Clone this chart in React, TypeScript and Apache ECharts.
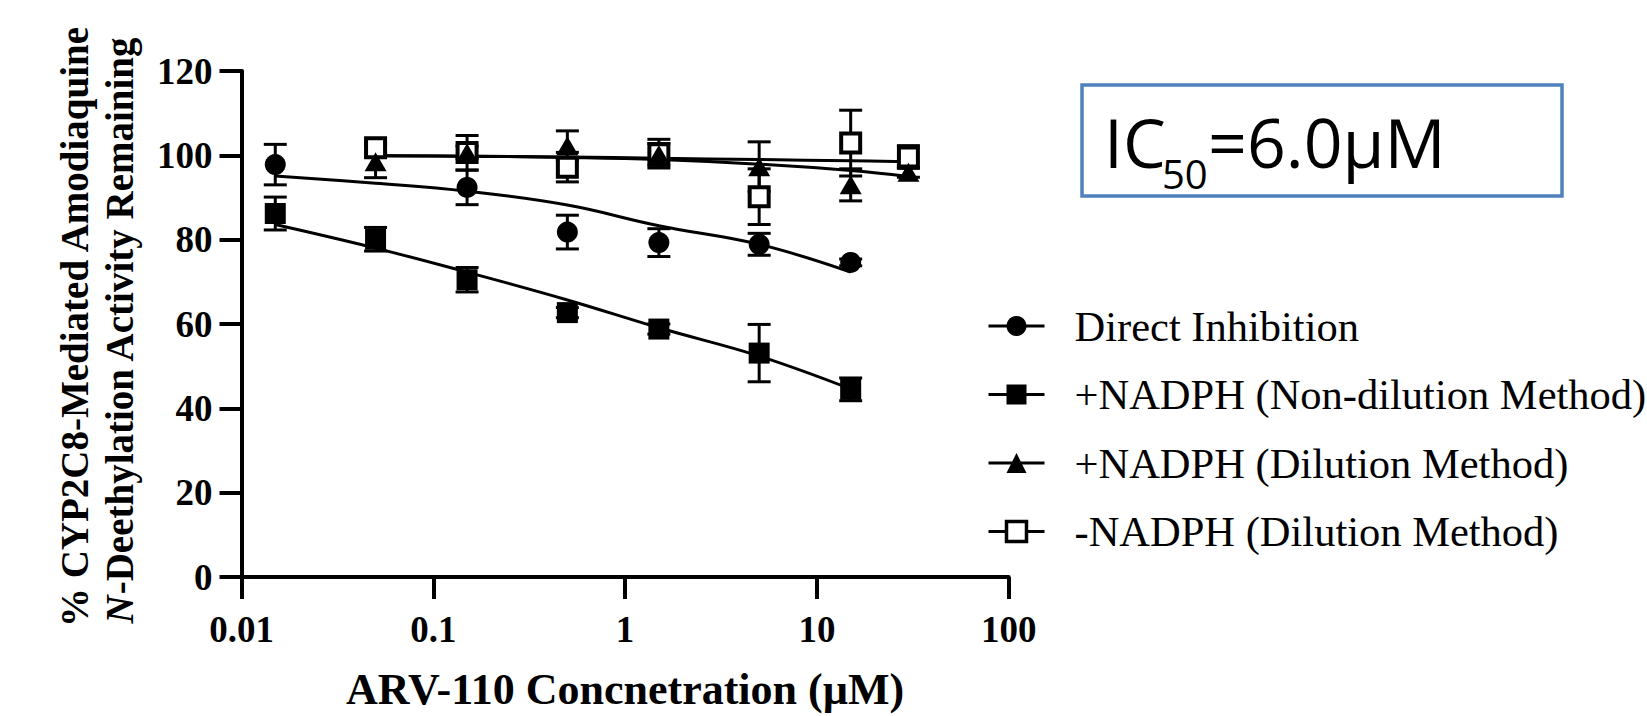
import React, { useEffect, useRef } from "react";
import * as echarts from "echarts";

const NAMES = [
  "Direct Inhibition",
  "+NADPH (Non-dilution Method)",
  "+NADPH (Dilution Method)",
  "-NADPH (Dilution Method)",
];

const X_TITLE = "ARV-110 Concnetration (µM)";
const Y_TITLE_1 = "% CYP2C8-Mediated Amodiaquine";
const Y_TITLE_2 = "{it|N}-Deethylation Activity Remaining";
const Y_TICKS_MIN = 0;
const Y_TICKS_MAX = 120;
const Y_TICK_STEP = 20;
const X_MIN = 0.01;
const X_MAX = 100;

// Direct Inhibition (filled circles)
const directConc = [0.015, 0.15, 0.5, 1.5, 5, 15];
const directMean = [97.8, 92.4, 81.8, 79.3, 78.9, 74.6];
const directErr = [4.8, 4.1, 4.0, 3.3, 2.6, 0.8];
const directFitConc = [0.015, 0.05, 0.15, 0.5, 1.5, 5, 15];
const directFit = [95.1, 93.4, 91.5, 88.2, 83.3, 78.9, 72.3];

// +NADPH non-dilution (filled squares)
const nonDilConc = [0.015, 0.05, 0.15, 0.5, 1.5, 5, 15];
const nonDilMean = [86.2, 80.1, 70.5, 62.7, 58.8, 53.1, 44.5];
const nonDilErr = [3.9, 2.8, 2.9, 1.2, 1.2, 6.8, 2.7];
const nonDilFitConc = [0.015, 0.05, 0.15, 0.5, 1.5, 5, 15];
const nonDilFit = [83.6, 78.0, 72.3, 65.7, 59.1, 52.4, 44.6];

// +NADPH dilution (filled triangles)
const dilConc = [0.05, 0.15, 0.5, 1.5, 5, 15, 30];
const dilMean = [98.5, 100.6, 102.3, 100.2, 97.3, 93.0, 96.0];
const dilErr = [3.8, 4.1, 3.5, 2.6, 5.9, 3.8, 1.2];
const dilFitConc = [0.05, 0.15, 0.5, 1.5, 5, 15, 30];
const dilFit = [99.9, 99.8, 99.5, 99.0, 97.9, 96.4, 95.0];

// -NADPH dilution (open squares)
const minusConc = [0.05, 0.15, 0.5, 1.5, 5, 15, 30];
const minusMean = [101.8, 100.7, 97.2, 100.4, 90.2, 102.9, 99.6];
const minusErr = [1.2, 1.5, 3.5, 3.4, 6.6, 7.8, 2.7];
const minusFitConc = [0.05, 0.15, 0.5, 1.5, 5, 15, 30];
const minusFit = [99.9, 99.8, 99.6, 99.3, 99.0, 98.7, 98.5];

const IC50_LABEL_MAIN = "IC";
const IC50_LABEL_SUB = "50";
const IC50_LABEL_REST = "=6.0µM";

const SERIF = '"Liberation Serif", "Times New Roman", serif';
const SANS = '"Open Sans", "Noto Sans", sans-serif';

const markerStyles: any[] = [
  { symbol: "circle", symbolSize: 21, itemStyle: { color: "#000" } },
  { symbol: "rect", symbolSize: 21, itemStyle: { color: "#000" } },
  { symbol: "triangle", symbolSize: [22, 19], itemStyle: { color: "#000" } },
  {
    symbol: "rect",
    symbolSize: 19,
    itemStyle: { color: "#fff", borderColor: "#000", borderWidth: 4 },
  },
];

function pairs(xs: number[], ys: number[]) {
  return xs.map((x, i) => [x, ys[i]]);
}

function errorSeries(id: string, xs: number[], ys: number[], es: number[]) {
  return {
    type: "custom",
    name: id,
    silent: true,
    z: 3,
    data: xs.map((x, i) => [x, ys[i], es[i]]),
    encode: { x: 0, y: 1 },
    renderItem: (params: any, api: any) => {
      const x = api.value(0);
      const y = api.value(1);
      const e = api.value(2);
      const top = api.coord([x, y + e]);
      const bot = api.coord([x, y - e]);
      const hw = 11.5;
      const style = { stroke: "#000", lineWidth: 3, fill: "none" };
      return {
        type: "group",
        children: [
          { type: "line", shape: { x1: top[0], y1: top[1], x2: bot[0], y2: bot[1] }, style },
          { type: "line", shape: { x1: top[0] - hw, y1: top[1], x2: top[0] + hw, y2: top[1] }, style },
          { type: "line", shape: { x1: bot[0] - hw, y1: bot[1], x2: bot[0] + hw, y2: bot[1] }, style },
        ],
      };
    },
  };
}

function curveSeries(idx: number, xs: number[], ys: number[]) {
  const m = markerStyles[idx];
  return {
    type: "line",
    name: NAMES[idx],
    data: pairs(xs, ys),
    smooth: 0.4,
    showSymbol: false,
    symbol: m.symbol,
    symbolSize: m.symbolSize,
    itemStyle: m.itemStyle,
    lineStyle: { color: "#000", width: 3 },
    z: 2,
    silent: true,
    emphasis: { disabled: true },
  };
}

function pointSeries(idx: number, xs: number[], ys: number[], z: number) {
  const m = markerStyles[idx];
  return {
    type: "scatter",
    name: NAMES[idx] + " data",
    data: pairs(xs, ys),
    symbol: m.symbol,
    symbolSize: m.symbolSize,
    itemStyle: { ...m.itemStyle, opacity: 1 },
    z,
    silent: true,
    emphasis: { disabled: true },
  };
}

export default function App() {
  const ref = useRef<HTMLDivElement>(null);

  useEffect(() => {
    if (!ref.current) return;
    const chart = echarts.init(ref.current, null, { renderer: "svg", width: 1647, height: 716 });
    const fmt = (v: number) => String(Number(Number(v).toPrecision(6)));

    chart.setOption({
      animation: false,
      backgroundColor: "#fff",
      textStyle: { fontFamily: SERIF, color: "#000" },
      grid: { left: 241.5, top: 71, width: 767.2, height: 513.3, containLabel: false },
      xAxis: {
        type: "log",
        logBase: 10,
        min: X_MIN,
        max: X_MAX,
        name: X_TITLE,
        nameLocation: "middle",
        nameGap: 90,
        nameTextStyle: { fontFamily: SERIF, fontWeight: "bold", fontSize: 44, color: "#000" },
        axisLine: { show: true, onZero: false, lineStyle: { color: "#000", width: 4 } },
        axisTick: { show: true, inside: false, length: 22, lineStyle: { color: "#000", width: 4 } },
        minorTick: { show: false },
        splitLine: { show: false },
        axisLabel: {
          fontFamily: SERIF,
          fontWeight: "bold",
          fontSize: 37,
          color: "#000",
          margin: 34,
          formatter: fmt,
        },
      },
      yAxis: {
        type: "value",
        min: Y_TICKS_MIN,
        max: Y_TICKS_MAX,
        interval: Y_TICK_STEP,
        axisLine: { show: true, onZero: false, lineStyle: { color: "#000", width: 4 } },
        axisTick: { show: true, inside: false, length: 22, lineStyle: { color: "#000", width: 4 } },
        splitLine: { show: false },
        axisLabel: {
          fontFamily: SERIF,
          fontWeight: "bold",
          fontSize: 37,
          color: "#000",
          margin: 29,
          padding: [9, 0, 0, 0],
        },
      },
      legend: {
        orient: "vertical",
        left: 982,
        top: 297,
        itemWidth: 56,
        itemHeight: 25,
        itemGap: 20.5,
        selectedMode: false,
        lineStyle: { width: 3, color: "#000" },
        textStyle: {
          fontFamily: SERIF,
          fontSize: 42.5,
          color: "#000",
          lineHeight: 48,
          padding: [0, 0, 0, 25],
        },
        data: [
          { name: NAMES[0] },
          { name: NAMES[1] },
          { name: NAMES[2] },
          { name: NAMES[3], itemStyle: { color: "#fff", borderColor: "#000", borderWidth: 3.5 } },
        ],
      },
      graphic: [
        {
          type: "text",
          x: 74,
          y: 327,
          rotation: Math.PI / 2,
          style: {
            text: Y_TITLE_1,
            fontFamily: SERIF,
            fontWeight: "bold",
            fontSize: 39,
            fill: "#000",
            align: "center",
            verticalAlign: "middle",
          },
        },
        {
          type: "text",
          x: 119,
          y: 330,
          rotation: Math.PI / 2,
          style: {
            text: Y_TITLE_2,
            fontFamily: SERIF,
            fontWeight: "bold",
            fontSize: 39,
            fill: "#000",
            align: "center",
            verticalAlign: "middle",
            rich: {
              it: { fontFamily: SERIF, fontWeight: "bold", fontStyle: "italic", fontSize: 39, fill: "#000" },
            },
          },
        },
        {
          type: "rect",
          shape: { x: 1082, y: 85, width: 480, height: 111 },
          style: { fill: "#fff", stroke: "#4F81BD", lineWidth: 3.5 },
        },
        {
          type: "text",
          x: 1104,
          y: 141,
          style: {
            text: IC50_LABEL_MAIN,
            fontFamily: SANS,
            fontSize: 68,
            fill: "#000",
            align: "left",
            verticalAlign: "middle",
          },
        },
        {
          type: "text",
          x: 1162,
          y: 173,
          style: {
            text: IC50_LABEL_SUB,
            fontFamily: SANS,
            fontSize: 40,
            fill: "#000",
            align: "left",
            verticalAlign: "middle",
          },
        },
        {
          type: "text",
          x: 1208,
          y: 141,
          style: {
            text: IC50_LABEL_REST,
            fontFamily: SANS,
            fontSize: 68,
            fill: "#000",
            align: "left",
            verticalAlign: "middle",
          },
        },
      ],
      series: [
        curveSeries(0, directFitConc, directFit),
        curveSeries(1, nonDilFitConc, nonDilFit),
        curveSeries(2, dilFitConc, dilFit),
        curveSeries(3, minusFitConc, minusFit),
        errorSeries("err0", directConc, directMean, directErr),
        errorSeries("err1", nonDilConc, nonDilMean, nonDilErr),
        errorSeries("err3", minusConc, minusMean, minusErr),
        errorSeries("err2", dilConc, dilMean, dilErr),
        pointSeries(0, directConc, directMean, 4),
        pointSeries(1, nonDilConc, nonDilMean, 4),
        pointSeries(3, minusConc, minusMean, 5),
        pointSeries(2, dilConc, dilMean, 6),
      ],
    });

    return () => chart.dispose();
  }, []);

  return (
    <div
      ref={ref}
      style={{ position: "fixed", left: 0, top: 0, width: 1647, height: 716, background: "#fff" }}
    />
  );
}
